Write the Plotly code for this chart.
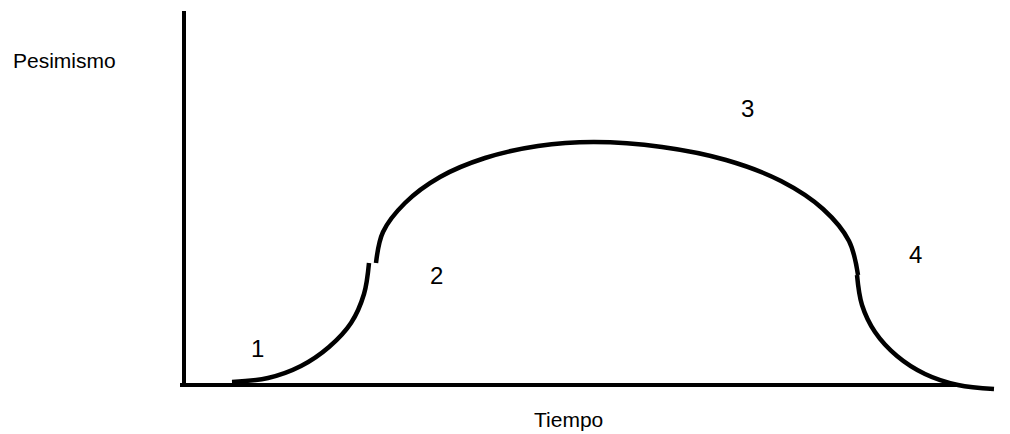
import plotly.graph_objects as go

# Curve segments (x: time, y: pessimism, origin at the axes corner)
seg1_x = [48, 84, 117, 145, 167, 180, 185]
seg1_y = [3, 7, 19, 38, 62, 91, 122]

arc_x = [192, 199, 221, 256, 301, 354, 410, 478, 542, 597, 639, 665, 674]
arc_y = [122, 153, 182, 208, 227, 239, 243, 238, 225, 204, 176, 144, 110]

seg3_x = [673, 678, 691, 713, 741, 774, 810]
seg3_y = [110, 80, 53, 29, 11, 0, -4]

# Axes
xaxis_x = [-4, 776]
xaxis_y = [0, 0]
yaxis_x = [0, 0]
yaxis_y = [0, 374]

# Stage numbers
stage_labels = ['1', '2', '3', '4', '5']
stage_x = [73, 252, 563, 731, 822]
stage_y = [37, 110, 277, 131, 37]

fig = go.Figure()

line_style = dict(color='black', width=4)
fig.add_trace(go.Scatter(x=xaxis_x, y=xaxis_y, mode='lines', line=line_style))
fig.add_trace(go.Scatter(x=yaxis_x, y=yaxis_y, mode='lines', line=line_style))
for xs, ys in [(seg1_x, seg1_y), (arc_x, arc_y), (seg3_x, seg3_y)]:
    fig.add_trace(go.Scatter(x=xs, y=ys, mode='lines',
                             line=dict(color='black', width=4.5, shape='spline', smoothing=1)))

font = dict(family='Liberation Sans, Arial, sans-serif', color='black')
for lab, x, y in zip(stage_labels, stage_x, stage_y):
    fig.add_annotation(x=x, y=y, text=lab, showarrow=False,
                       xanchor='left' if lab == '5' else 'center',
                       font=dict(size=24, **font))

fig.add_annotation(x=-120, y=325, text='Pesimismo', showarrow=False,
                   font=dict(size=21, **font))
fig.add_annotation(x=384, y=-34, text='Tiempo', showarrow=False,
                   font=dict(size=21, **font))

# page body keeps its 8px margin, so the figure is 8px smaller on each side
fig.update_layout(
    width=1002, height=426,
    margin=dict(l=0, r=0, t=0, b=0),
    paper_bgcolor='white', plot_bgcolor='white',
    showlegend=False,
    xaxis=dict(range=[-176, 826], visible=False),
    yaxis=dict(range=[-49, 377], visible=False),
)

fig.write_html("out.html")
